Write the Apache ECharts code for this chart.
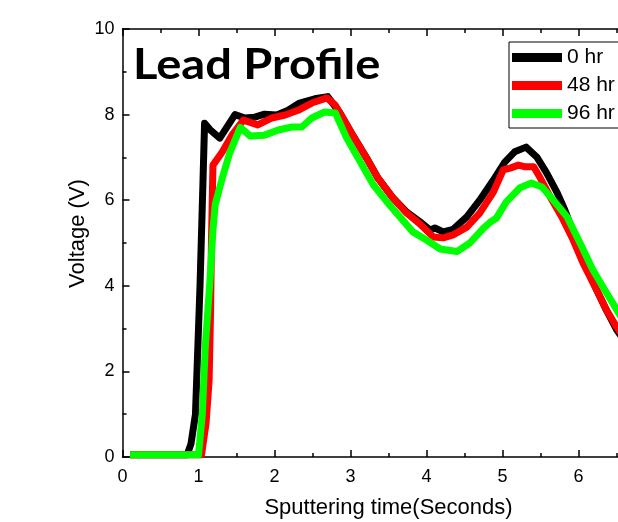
<!DOCTYPE html>
<html>
<head>
<meta charset="utf-8">
<script src="https://cdn.jsdelivr.net/npm/echarts@6/dist/echarts.min.js"></script>
<style>html,body{margin:0;padding:0;background:#fff;}#c{width:618px;height:522px;}</style>
</head>
<body>
<div id="c"></div>
<script>
var seriesNames = ['0 hr', '48 hr', '96 hr'];
var xTicks = [0, 1, 2, 3, 4, 5, 6, 7];
var yTicks = [0, 2, 4, 6, 8, 10];

var hr0 = [[0.1,0.05],[0.85,0.05],[0.9,0.3],[0.96,1.0],[0.98,2.0],[1.02,4.0],[1.06,6.5],[1.08,7.8],[1.15,7.65],[1.28,7.45],[1.48,8.0],[1.61,7.92],[1.74,7.94],[1.87,8.01],[2.03,7.99],[2.18,8.1],[2.33,8.27],[2.53,8.37],[2.70,8.42],[2.86,8.04],[3.03,7.52],[3.21,6.99],[3.36,6.52],[3.56,6.05],[3.74,5.72],[3.91,5.5],[4.05,5.3],[4.11,5.35],[4.22,5.26],[4.35,5.32],[4.53,5.61],[4.70,6.0],[4.88,6.47],[5.03,6.89],[5.16,7.13],[5.31,7.24],[5.45,7.01],[5.58,6.64],[5.72,6.17],[5.82,5.77],[5.93,5.25],[6.06,4.6],[6.24,3.9],[6.37,3.42],[6.5,2.98],[6.65,2.6]];

var hr48 = [[0.1,0.05],[1.04,0.05],[1.1,0.8],[1.14,1.8],[1.16,3.5],[1.17,5.0],[1.19,6.82],[1.31,7.12],[1.44,7.52],[1.59,7.87],[1.78,7.76],[1.96,7.92],[2.14,7.99],[2.31,8.1],[2.49,8.27],[2.69,8.39],[2.80,8.22],[2.86,8.04],[3.03,7.52],[3.21,6.99],[3.36,6.52],[3.56,6.05],[3.74,5.70],[3.91,5.45],[4.09,5.14],[4.22,5.12],[4.35,5.19],[4.53,5.37],[4.70,5.70],[4.88,6.19],[5.01,6.71],[5.10,6.75],[5.21,6.82],[5.30,6.78],[5.41,6.78],[5.49,6.54],[5.63,6.07],[5.78,5.61],[5.93,5.07],[6.06,4.53],[6.24,3.90],[6.37,3.43],[6.5,3.04],[6.65,2.65]];

var hr96 = [[0.1,0.05],[1.0,0.05],[1.05,1.0],[1.09,2.6],[1.15,4.1],[1.19,5.3],[1.22,5.9],[1.31,6.5],[1.41,7.1],[1.55,7.7],[1.68,7.5],[1.87,7.52],[2.05,7.64],[2.23,7.71],[2.36,7.71],[2.49,7.92],[2.66,8.06],[2.80,8.04],[2.95,7.45],[3.13,6.89],[3.30,6.36],[3.48,5.96],[3.65,5.61],[3.82,5.26],[4.0,5.07],[4.18,4.86],[4.40,4.80],[4.57,5.0],[4.75,5.35],[4.84,5.49],[4.92,5.58],[5.05,5.96],[5.23,6.29],[5.38,6.40],[5.52,6.31],[5.67,6.0],[5.85,5.61],[6.02,5.0],[6.19,4.37],[6.37,3.83],[6.52,3.39],[6.65,3.0]];

var colors = ['#000000', '#ff0000', '#00ff00'];
var allData = [hr0, hr48, hr96];

var chart = echarts.init(document.getElementById('c'), null, {renderer: 'canvas'});
var font = 'Liberation Sans, Arial, sans-serif';
var axisCommon = {
  axisLine: {show: true, onZero: false, lineStyle: {color: '#000', width: 1.5}},
  axisTick: {show: true, inside: true, length: 7, lineStyle: {color: '#000', width: 1.5}},
  minorTick: {show: true, splitNumber: 2, length: 4, lineStyle: {color: '#000', width: 1.5}},
  splitLine: {show: false}
};
var option = {
  animation: false,
  backgroundColor: '#fff',
  graphic: [{
    type: 'text', left: 133, top: 44, z: 100, scaleX: 1.12,
    style: {text: 'Lead Profile', fill: '#000', font: 'bold 42px Lato'}
  }],
  legend: {
    data: seriesNames, orient: 'vertical', left: 509, top: 42,
    backgroundColor: '#fff', borderColor: '#000', borderWidth: 1,
    padding: [5, 60, 4, 3], itemGap: 7, itemWidth: 50, itemHeight: 9,
    icon: 'rect',
    textStyle: {fontFamily: font, fontSize: 21, color: '#000'}
  },
  grid: {left: 122.5, top: 29, width: 532, height: 428, outerBoundsMode: 'none', containLabel: false},
  xAxis: [
    Object.assign({
      type: 'value', min: 0, max: 7, interval: 1, position: 'bottom',
      name: 'Sputtering time(Seconds)', nameLocation: 'middle', nameGap: 40,
      nameTextStyle: {fontFamily: font, fontSize: 22, color: '#000'},
      axisLabel: {fontFamily: font, fontSize: 18, color: '#000', margin: 11}
    }, axisCommon),
    Object.assign({
      type: 'value', min: 0, max: 7, interval: 1, position: 'top',
      axisLabel: {show: false}
    }, axisCommon)
  ],
  yAxis: [
    Object.assign({
      type: 'value', min: 0, max: 10, interval: 2, position: 'left',
      name: 'Voltage (V)', nameLocation: 'middle', nameGap: 34, nameMoveOverlap: false,
      nameTextStyle: {fontFamily: font, fontSize: 22, color: '#000', padding: [0, 0, 0, 19]},
      axisLabel: {fontFamily: font, fontSize: 18, color: '#000', margin: 8}
    }, axisCommon)
  ],
  series: allData.map(function (d, i) {
    return {
      name: seriesNames[i], type: 'line', data: d, xAxisIndex: 0, yAxisIndex: 0,
      symbol: 'none', color: colors[i],
      lineStyle: {color: colors[i], width: 7, join: 'round'}
    };
  })
};
chart.setOption(option);
</script>
</body>
</html>
